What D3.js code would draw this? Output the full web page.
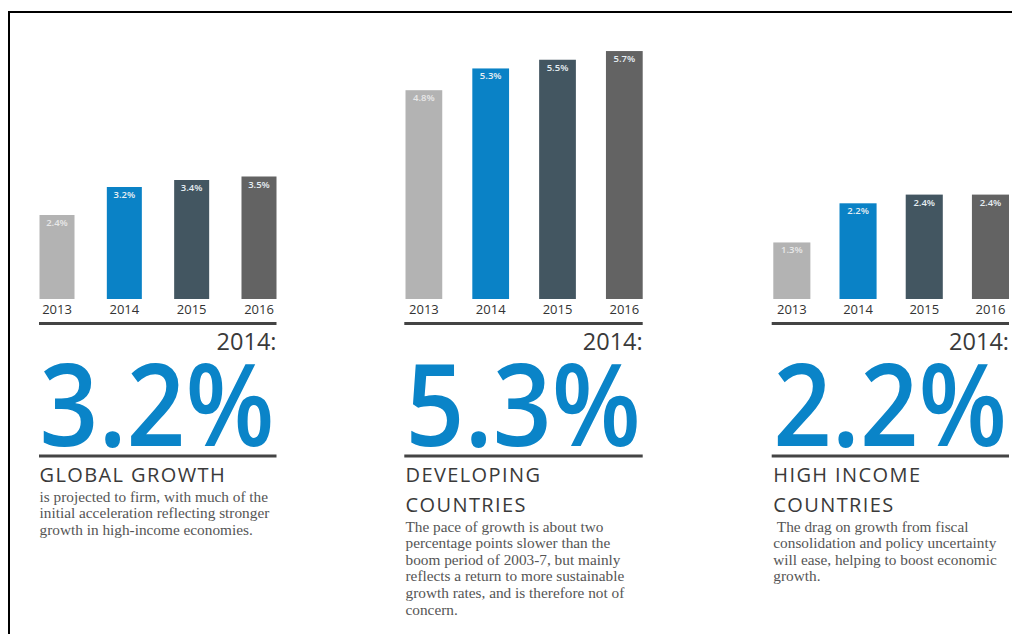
<!DOCTYPE html>
<html>
<head>
<meta charset="utf-8">
<script src="https://cdn.jsdelivr.net/npm/d3@7/dist/d3.min.js"></script>
<style>
  html, body { margin: 0; padding: 0; background: #fff; }
  svg { display: block; }
</style>
</head>
<body>
<svg id="chart" width="1012" height="634"></svg>
<script>
// ---- data ----
const years = ["2013", "2014", "2015", "2016"];
const globalGrowth = [2.4, 3.2, 3.4, 3.5];
const developingGrowth = [4.8, 5.3, 5.5, 5.7];
const highIncomeGrowth = [1.3, 2.2, 2.4, 2.4];
const highlightYear = "2014:";
const headlineValues = ["3.2%", "5.3%", "2.2%"];
const headings = [["GLOBAL GROWTH"], ["DEVELOPING", "COUNTRIES"], ["HIGH INCOME", "COUNTRIES"]];
const bodyTexts = [
  ["is projected to firm, with much of the",
   "initial acceleration reflecting stronger",
   "growth in high-income economies."],
  ["The pace of growth is about two",
   "percentage points slower than the",
   "boom period of 2003-7, but mainly",
   "reflects a return to more sustainable",
   "growth rates, and is therefore not of",
   "concern."],
  [" The drag on growth from fiscal",
   "consolidation and policy uncertainty",
   "will ease, helping to boost economic",
   "growth."]
];
const seriesList = [globalGrowth, developingGrowth, highIncomeGrowth];

// ---- layout ----
const barColors = ["#b3b3b3", "#0a82c6", "#435661", "#636363"];
const blue = "#0a84c8";
const baseY = 299;
const plotH = 250;
const panels = [
  { rx0: 39.5, rx1: 276.5, pad: 0.48, yMax: plotH / 35,   l0: 39,    l1: 276.5 },
  { rx0: 405.5, rx1: 642.7, pad: 0.45, yMax: plotH / 43.5, l0: 404.3, l1: 642.7 },
  { rx0: 773.3, rx1: 1009, pad: 0.44, yMax: plotH / 43.5, l0: 771.7, l1: 1009 }
];

const svg = d3.select("#chart");

// frame
svg.append("path")
  .attr("d", "M9,634V12H1012")
  .attr("fill", "none")
  .attr("stroke", "#000")
  .attr("stroke-width", 2);

panels.forEach((p, i) => {
  const vals = seriesList[i];
  const data = years.map((y, k) => ({ year: y, value: vals[k] }));
  const x = d3.scaleBand().domain(years).range([p.rx0, p.rx1]).paddingInner(p.pad).paddingOuter(0);
  const y = d3.scaleLinear().domain([0, p.yMax]).range([baseY, baseY - plotH]);
  const g = svg.append("g");

  g.selectAll("rect.bar").data(data).join("rect")
    .attr("class", "bar")
    .attr("x", d => x(d.year))
    .attr("y", d => y(d.value))
    .attr("width", x.bandwidth())
    .attr("height", d => y(0) - y(d.value))
    .attr("fill", (d, k) => barColors[k]);

  g.selectAll("text.val").data(data).join("text")
    .attr("class", "val")
    .attr("x", d => x(d.year) + x.bandwidth() / 2)
    .attr("y", d => y(d.value) + 11)
    .attr("text-anchor", "middle")
    .attr("font-family", "Open Sans, sans-serif")
    .attr("font-size", 9.5)
    .attr("font-weight", 600)
    .attr("fill", (d, k) => k === 0 ? "#e8e8e8" : "#e6eef3")
    .text(d => d.value.toFixed(1) + "%");

  const axis = g.append("g")
    .attr("transform", `translate(0,${baseY})`)
    .call(d3.axisBottom(x).tickSize(0).tickPadding(6));
  axis.select(".domain").remove();
  axis.selectAll("text")
    .attr("font-family", "Open Sans, sans-serif")
    .attr("font-size", 13)
    .attr("fill", "#333");

  // rules
  [323.5, 456].forEach(ry => {
    g.append("line")
      .attr("x1", p.l0).attr("x2", p.l1)
      .attr("y1", ry).attr("y2", ry)
      .attr("stroke", "#444").attr("stroke-width", 3);
  });

  g.append("text")
    .attr("x", p.l1).attr("y", 350)
    .attr("text-anchor", "end")
    .attr("font-family", "Open Sans, sans-serif")
    .attr("font-size", 23.5)
    .attr("fill", "#3a3a3a")
    .text(highlightYear);

  g.append("text")
    .attr("x", p.rx0).attr("y", 446)
    .attr("font-family", "Open Sans, sans-serif")
    .attr("font-size", 115)
    .attr("font-weight", 600)
    .attr("fill", blue)
    .attr("textLength", p.rx1 - p.rx0 - 2)
    .attr("lengthAdjust", "spacingAndGlyphs")
    .text(headlineValues[i]);

  headings[i].forEach((h, k) => {
    g.append("text")
      .attr("x", p.rx0).attr("y", 481.7 + k * 29.8)
      .attr("font-family", "Open Sans, sans-serif")
      .attr("font-size", 20)
      .attr("letter-spacing", 1.4)
      .attr("fill", "#3a3a3a")
      .text(h);
  });

  const bodyStart = 481.7 + (headings[i].length - 1) * 29.8 + 20;
  bodyTexts[i].forEach((t, k) => {
    g.append("text")
      .attr("x", p.rx0).attr("y", bodyStart + k * 16.6)
      .attr("font-family", "Liberation Serif, serif")
      .attr("font-size", 15.3)
      .attr("fill", "#555")
      .style("white-space", "pre")
      .text(t);
  });
});
</script>
</body>
</html>
